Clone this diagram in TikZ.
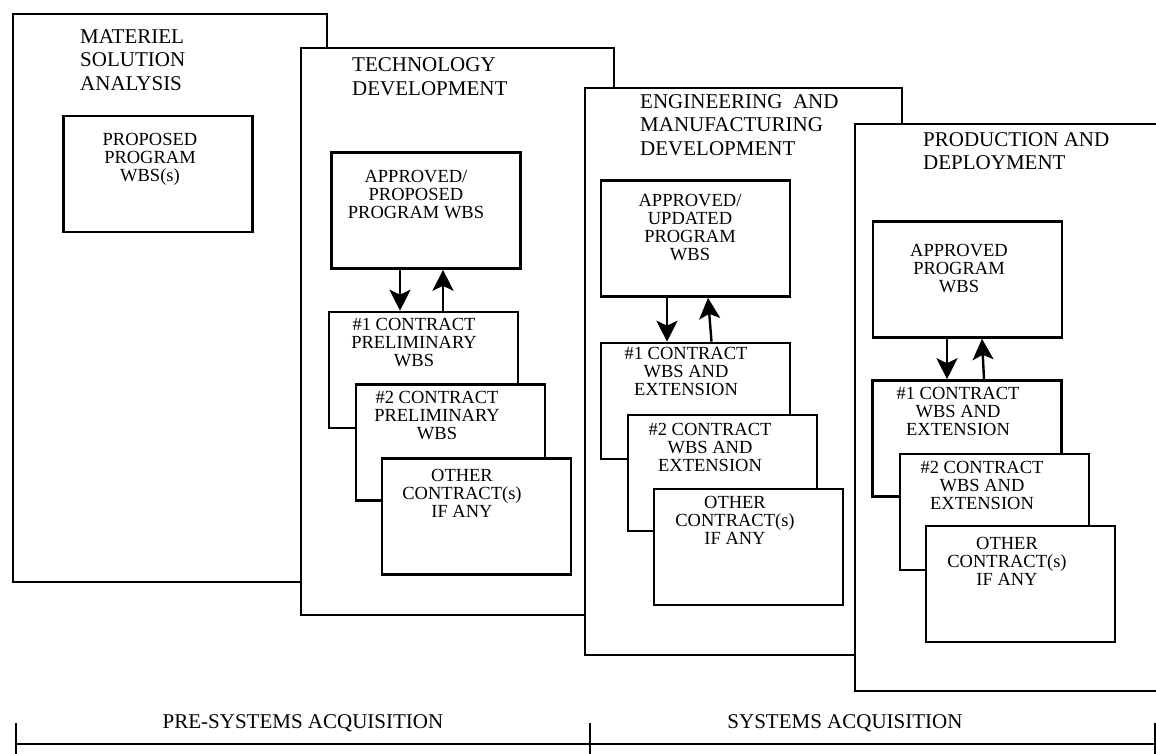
\documentclass[tikz,border=0pt]{standalone}
\usepackage{fontspec}
\setmainfont{Liberation Serif}
\usetikzlibrary{arrows.meta}

\begin{document}
\begin{tikzpicture}[x=1pt,y=-1pt,
	phase/.style={draw,line width=2.8pt,fill=white},
	wbs/.style={draw,line width=2.6pt,fill=white,minimum width=189pt,minimum height=116pt,inner sep=0pt},
	boxtxt/.style={align=center,inner sep=0pt,font=\fontsize{18.5}{18}\selectfont},
	ttl/.style={align=left,anchor=west,inner sep=0pt,font=\fontsize{21}{23.5}\selectfont},
	flow/.style={line width=2.4pt,-{Stealth[length=21pt,width=21pt,inset=5pt]}}]
	\useasboundingbox (0,0) rectangle (1156,753);
	\clip (0,0) rectangle (1156,753);

	\draw[phase] (13,14) rectangle (327,582);
	\node[ttl] (msat) at (80,60) {MATERIEL\\SOLUTION\\ANALYSIS};
	\node[wbs] (msaprog) at (158,174) {};
	\node[boxtxt] (msaprogt) at (150,159.5) {PROPOSED\\PROGRAM\\WBS(s)};

	\draw[phase] (301,48) rectangle (614,615);
	\node[ttl] (tdt) at (352,76.5) {TECHNOLOGY\\DEVELOPMENT};
	\node[wbs] (tdprog) at (426,210.5) {};
	\node[boxtxt] (tdprogt) at (416,195) {APPROVED/\\PROPOSED\\PROGRAM WBS};
	\node[wbs] (tdc1) at (423.5,370) {};
	\node[boxtxt] (tdc1t) at (414,343) {\#1 CONTRACT\\PRELIMINARY\\WBS};
	\node[wbs] (tdc2) at (450.5,442.5) {};
	\node[boxtxt] (tdc2t) at (437,416) {\#2 CONTRACT\\PRELIMINARY\\WBS};
	\node[wbs] (tdoth) at (476.5,516.5) {};
	\node[boxtxt] (tdotht) at (462,493.5) {OTHER\\CONTRACT(s)\\IF ANY};
	\draw[flow] ([xshift=-26pt]tdprog.south) -- ([xshift=-23.5pt]tdc1.north);
	\draw[flow] ([xshift=19.5pt]tdc1.north) -- ([xshift=17pt]tdprog.south);

	\draw[phase] (585,88) rectangle (902,655);
	\node[ttl] (emdt) at (640,125) {ENGINEERING\ \ AND\\MANUFACTURING\\DEVELOPMENT};
	\node[wbs] (emdprog) at (695.5,238.5) {};
	\node[boxtxt] (emdprogt) at (690,228) {APPROVED/\\UPDATED\\PROGRAM\\WBS};
	\node[wbs] (emdc1) at (695.5,401) {};
	\node[boxtxt] (emdc1t) at (686,371) {\#1 CONTRACT\\WBS AND\\EXTENSION};
	\node[wbs] (emdc2) at (722.5,473) {};
	\node[boxtxt] (emdc2t) at (710,447) {\#2 CONTRACT\\WBS AND\\EXTENSION};
	\node[wbs] (emdoth) at (748.5,547) {};
	\node[boxtxt] (emdotht) at (735,520) {OTHER\\CONTRACT(s)\\IF ANY};
	\draw[flow] ([xshift=-28.5pt]emdprog.south) -- ([xshift=-28.5pt]emdc1.north);
	\draw[flow] ([xshift=16pt]emdc1.north) -- ([xshift=12.5pt]emdprog.south);

	\draw[phase] (855,124) rectangle (1162,691);
	\node[ttl] (pdt) at (923,151) {PRODUCTION AND\\DEPLOYMENT};
	\node[wbs] (pdprog) at (967.5,279.5) {};
	\node[boxtxt] (pdprogt) at (959,269) {APPROVED\\PROGRAM\\WBS};
	\node[wbs] (pdc1) at (967,438.5) {};
	\node[boxtxt] (pdc1t) at (958,411) {\#1 CONTRACT\\WBS AND\\EXTENSION};
	\node[wbs] (pdc2) at (994.5,512) {};
	\node[boxtxt] (pdc2t) at (982,485) {\#2 CONTRACT\\WBS AND\\EXTENSION};
	\node[wbs] (pdoth) at (1020.5,584) {};
	\node[boxtxt] (pdotht) at (1007,561) {OTHER\\CONTRACT(s)\\IF ANY};
	\draw[flow] ([xshift=-20.5pt]pdprog.south) -- ([xshift=-20pt]pdc1.north);
	\draw[flow] ([xshift=17pt]pdc1.north) -- ([xshift=14.5pt]pdprog.south);

	\coordinate (pre) at (16,744);
	\coordinate (mid) at (590,744);
	\coordinate (sys) at (1155,744);
	\draw[line width=2.8pt] (pre) -- (sys);
	\foreach \t in {pre,mid,sys}
		\draw[line width=2pt] (\t) ++(0,-21) -- ++(0,32);
	\node[inner sep=0pt,font=\fontsize{21}{24}\selectfont] (prel) at (303,723) {PRE-SYSTEMS ACQUISITION};
	\node[inner sep=0pt,font=\fontsize{21}{24}\selectfont] (sysl) at (845,723) {SYSTEMS ACQUISITION};
\end{tikzpicture}
\end{document}
